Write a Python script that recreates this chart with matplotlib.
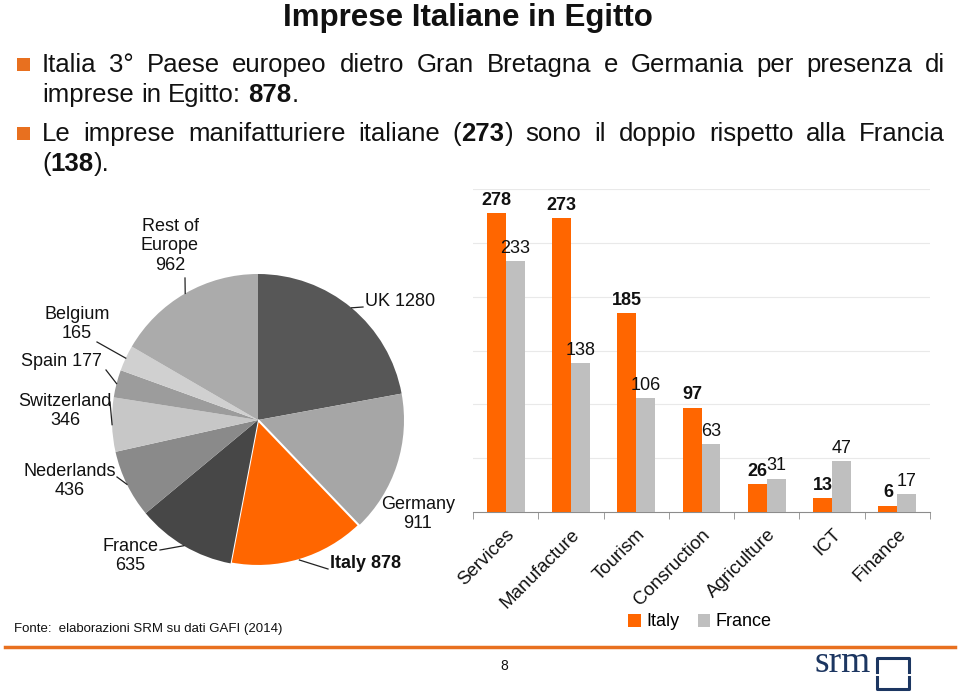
import numpy as np
import matplotlib
matplotlib.use('Agg')
import matplotlib.pyplot as plt
from matplotlib.patches import Rectangle
from matplotlib.lines import Line2D
from matplotlib.transforms import Affine2D

W, H = 960, 693

sans = 'Liberation Sans'
serif = 'Liberation Serif'

orange = '#ff6600'
slide_orange = '#e8701f'
navy = '#1c3661'

# pie: companies in Egypt by European country
pie_names = ['UK', 'Germany', 'Italy', 'France', 'Nederlands', 'Switzerland',
             'Spain', 'Belgium', 'Rest of Europe']
pie_values = [1280, 911, 878, 635, 436, 346, 177, 165, 962]
pie_colors = ['#575757', '#a6a6a6', orange, '#474747', '#8a8a8a', '#c7c7c7',
              '#9c9c9c', '#d0d0d0', '#ababab']

# bars: sectors, Italy vs France
sectors = ['Services', 'Manufacture', 'Tourism', 'Consruction', 'Agriculture', 'ICT', 'Finance']
italy = [278, 273, 185, 97, 26, 13, 6]
france = [233, 138, 106, 63, 31, 47, 17]

title = 'Imprese Italiane in Egitto'
bullet_lines = [
    'Italia 3°  Paese europeo dietro Gran Bretagna e Germania per presenza di',
    'imprese in Egitto: **878**.',
    'Le imprese manifatturiere italiane (**273**) sono il doppio rispetto alla Francia',
    '(**138**).',
]
source = 'Fonte:  elaborazioni SRM su dati GAFI (2014)'

fig = plt.figure(figsize=(W / 100, H / 100), dpi=100)
fig.patch.set_facecolor('white')
# pixel coordinates, origin top-left
px = Affine2D().scale(1 / W, -1 / H).translate(0, 1) + fig.transFigure
renderer = fig.canvas.get_renderer()

fig.text(468, 26, title, transform=px, family=sans, weight='bold',
         fontsize=22.5, ha='center', va='baseline', color='#111111')


def rich_line(line, x0, y, size, x1=None):
    bold = False
    words = []
    for w in line.split():
        pieces = []
        for i, chunk in enumerate(w.split('**')):
            if i > 0:
                bold = not bold
            if chunk:
                t = fig.text(0, y, chunk, transform=px, family=sans, fontsize=size,
                             weight='bold' if bold else 'normal', va='baseline',
                             color='#111111')
                pieces.append((t, t.get_window_extent(renderer).width))
        words.append(pieces)
    widths = [sum(p[1] for p in w) for w in words]
    gap = size * 0.28 * 100 / 72
    if x1 is not None and len(words) > 1:
        gap = (x1 - x0 - sum(widths)) / (len(words) - 1)
    x = x0
    for w, ww in zip(words, widths):
        xx = x
        for t, tw in w:
            t.set_x(xx)
            xx += tw
        x += ww + gap


bullet_y = [72, 102, 141, 171]
justified = [True, False, True, False]
for line, y, j in zip(bullet_lines, bullet_y, justified):
    rich_line(line, 42, y, 18.5, 945 if j else None)
for y in (bullet_y[0], bullet_y[2]):
    fig.add_artist(Rectangle((17, y - 14), 13, 13, transform=px,
                             facecolor=slide_orange, edgecolor='none'))

# ---- pie ----
ax_pie = fig.add_axes([112 / W, 1 - 566 / H, 292 / W, 292 / H])
wedges, _ = ax_pie.pie(pie_values, colors=pie_colors, startangle=90,
                       counterclock=False, radius=1,
                       wedgeprops=dict(linewidth=0))
wedges[2].set_edgecolor('white')
wedges[2].set_linewidth(1.5)
ax_pie.set_xlim(-1, 1)
ax_pie.set_ylim(-1, 1)
ax_pie.axis('off')

# label layout: text position (px), alignment, stacked?, leader end (px)
pie_label_layout = {
    'UK': (365, 301, 'left', False, (363, 307)),
    'Germany': (418, 514, 'center', True, None),
    'Italy': (330, 563, 'left', False, (328, 569)),
    'France': (130, 556, 'center', True, (160, 550)),
    'Nederlands': (70, 481, 'center', True, (117, 477)),
    'Switzerland': (65, 411, 'center', True, (110, 402)),
    'Spain': (61, 362, 'center', False, (106, 370)),
    'Belgium': (77, 324, 'center', True, (97, 342)),
    'Rest of Europe': (170, 246, 'center', True, (185, 278)),
}

for w, name, val in zip(wedges, pie_names, pie_values):
    tx, ty, ha, stacked, end = pie_label_layout[name]
    if name == 'Rest of Europe':
        label = f'Rest of\nEurope\n{val}'
    elif stacked:
        label = f'{name}\n{val}'
    else:
        label = f'{name} {val}'
    fig.text(tx, ty, label, transform=px, family=sans, fontsize=13,
             ha=ha, va='center', multialignment='center', linespacing=1.22,
             weight='bold' if name == 'Italy' else 'normal', color='#111111')
    if end is not None:
        mid = np.deg2rad((w.theta1 + w.theta2) / 2)
        dx, dy = ax_pie.transData.transform((np.cos(mid), np.sin(mid)))
        ex, ey = dx, H - dy
        fig.add_artist(Line2D([ex, end[0]], [ey, end[1]], transform=px,
                              color='#222222', linewidth=0.9))

# ---- bars ----
ax = fig.add_axes([473 / W, 1 - 512 / H, 457 / W, 323 / H])
xpos = np.arange(len(sectors))
bw = 0.29
b1 = ax.bar(xpos - bw / 2, italy, bw, color=orange, label='Italy', zorder=3)
b2 = ax.bar(xpos + bw / 2, france, bw, color='#bfbfbf', label='France', zorder=3)
for r, v in zip(b1, italy):
    ax.annotate(str(v), (r.get_x() + r.get_width() / 2, v), xytext=(0, 3),
                textcoords='offset points', ha='center', va='bottom',
                fontsize=13, weight='bold', family=sans, color='#111111')
for r, v in zip(b2, france):
    ax.annotate(str(v), (r.get_x() + r.get_width() / 2, v), xytext=(0, 3),
                textcoords='offset points', ha='center', va='bottom',
                fontsize=13, family=sans, color='#111111')

ax.set_xlim(-0.5, len(sectors) - 0.5)
ax.set_ylim(0, 300)
ax.set_yticks(np.arange(50, 301, 50))
ax.yaxis.grid(True, color='#e9e9e9', linewidth=0.8, zorder=0)
ax.tick_params(axis='y', length=0, labelleft=False)
for s in ('left', 'right', 'top'):
    ax.spines[s].set_visible(False)
ax.spines['bottom'].set_color('#8c8c8c')
ax.set_xticks(xpos)
ax.set_xticklabels(sectors, rotation=45, ha='right', rotation_mode='anchor',
                   fontsize=13.5, family=sans, color='#111111')
ax.set_xticks(np.arange(-0.5, len(sectors)), minor=True)
ax.tick_params(axis='x', which='major', length=0, pad=10)
ax.tick_params(axis='x', which='minor', length=5, color='#8c8c8c', direction='out')
ax.set_axisbelow(True)

ax.legend(loc='center', bbox_to_anchor=(700 / W, 1 - 622 / H),
          bbox_transform=fig.transFigure, ncol=2, frameon=False,
          prop=dict(family=sans, size=13), handlelength=0.7, handleheight=0.7,
          handletextpad=0.3, columnspacing=1.0)

# ---- footer ----
fig.text(14, 629, source, transform=px, family=sans, fontsize=9.5,
         ha='left', va='center', color='#111111')
fig.add_artist(Line2D([5, 955], [647, 647], transform=px, color=slide_orange, linewidth=2.5))
fig.text(504, 666, '8', transform=px, family=sans, fontsize=10,
         ha='center', va='center', color='#111111')
fig.text(814, 672, 'srm', transform=px, family=serif, fontsize=27,
         ha='left', va='baseline', color=navy)
fig.add_artist(Line2D([877, 877, 909, 909], [672, 658, 658, 672], transform=px,
                      color=navy, linewidth=2.2))
fig.add_artist(Line2D([877, 877, 909, 909], [677, 689, 689, 677], transform=px,
                      color=navy, linewidth=2.2))

fig.savefig('out.png', dpi=100)
